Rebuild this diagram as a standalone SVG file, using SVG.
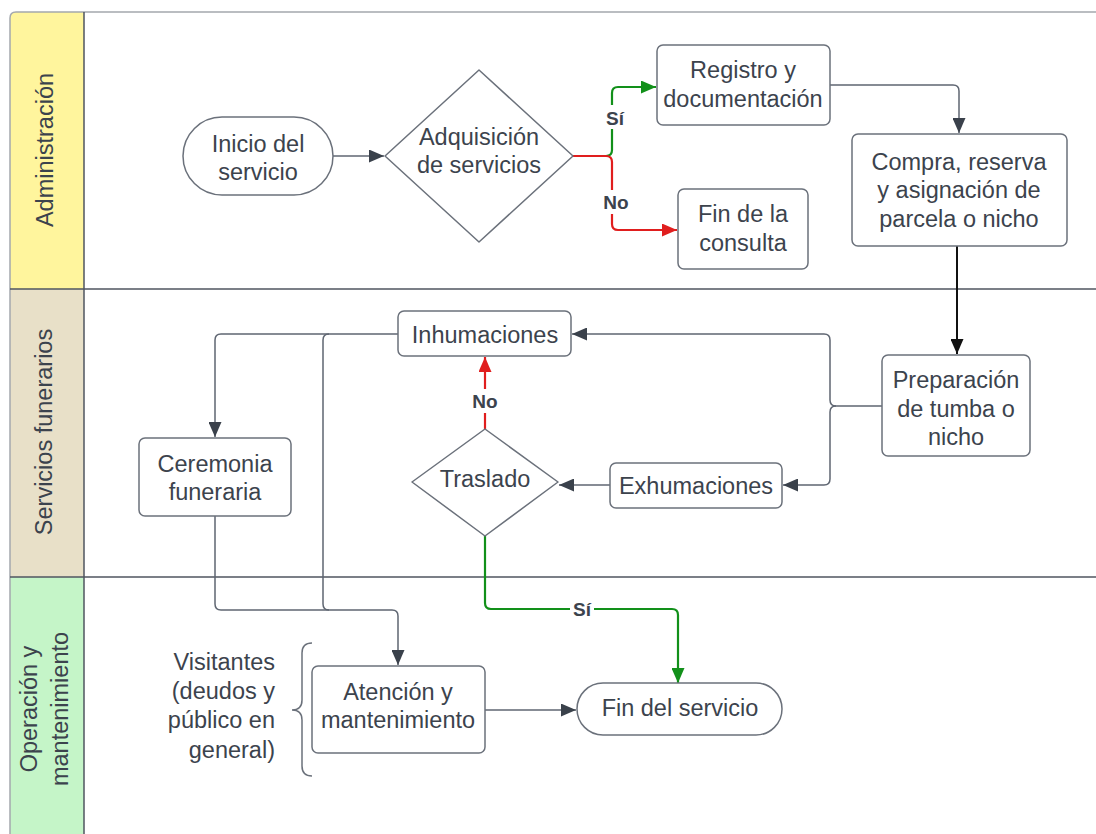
<svg xmlns="http://www.w3.org/2000/svg" width="1096" height="834" viewBox="0 0 1096 834">
<defs>
<style>
.t{font-family:"Liberation Sans",Arial,sans-serif;font-size:23.5px;fill:#3c434d;text-anchor:middle}
.tr{font-family:"Liberation Sans",Arial,sans-serif;font-size:23.5px;fill:#3c434d;text-anchor:end}
.lb{font-family:"Liberation Sans",Arial,sans-serif;font-size:19px;font-weight:bold;fill:#3c434d;text-anchor:middle}
.box{fill:#fff;stroke:#6b717b;stroke-width:1.5}
.c{fill:none;stroke:#5f6672;stroke-width:1.5}
.cg{fill:none;stroke:#12901a;stroke-width:2.2}
.cr{fill:none;stroke:#e01e1e;stroke-width:2.2}
.cb{fill:none;stroke:#111;stroke-width:2}
.lane{fill:none;stroke:#505660;stroke-width:1.5}
</style>
<marker id="ag" markerWidth="15" markerHeight="13" refX="15" refY="6.5" orient="auto" markerUnits="userSpaceOnUse"><path d="M0,0 L15,6.5 L0,13 z" fill="#3a414b"/></marker>
<marker id="agr" markerWidth="15" markerHeight="13" refX="15" refY="6.5" orient="auto" markerUnits="userSpaceOnUse"><path d="M0,0 L15,6.5 L0,13 z" fill="#12901a"/></marker>
<marker id="ar" markerWidth="15" markerHeight="13" refX="15" refY="6.5" orient="auto" markerUnits="userSpaceOnUse"><path d="M0,0 L15,6.5 L0,13 z" fill="#e01e1e"/></marker>
<marker id="ab" markerWidth="15" markerHeight="13" refX="15" refY="6.5" orient="auto" markerUnits="userSpaceOnUse"><path d="M0,0 L15,6.5 L0,13 z" fill="#111"/></marker>
</defs>
<rect width="1096" height="834" fill="#fff"/>
<g id="lanes">
<path d="M10,289 V18 Q10,12 16,12 H84 V289 Z" fill="#fff59d"/>
<rect x="10" y="289" width="74" height="288" fill="#e8e0c8"/>
<rect x="10" y="577" width="74" height="257" fill="#c5f5c8"/>
<path d="M10,834 V18 Q10,12 16,12 H1096" fill="none" stroke="#a4a8ad" stroke-width="1.5"/>
<path class="lane" d="M84,12 V834 M10,289 H1096 M10,577 H1096"/>
<text class="t" transform="translate(53,150) rotate(-90)">Administración</text>
<text class="t" transform="translate(52,432) rotate(-90)">Servicios funerarios</text>
<text class="t" transform="translate(37,709) rotate(-90)">Operación y</text>
<text class="t" transform="translate(68,709) rotate(-90)">mantenimiento</text>
</g>
<g id="connectors">
<path class="c" d="M333,156 H384" marker-end="url(#ag)"/>
<path class="cg" d="M606,156 Q612,156 612,150 V93 Q612,87 618,87 H656" marker-end="url(#agr)"/>
<path class="cr" d="M573,156 H606 Q612,156 612,162 V224 Q612,230 618,230 H677" marker-end="url(#ar)"/>
<path class="c" d="M830,85 H953 Q959,85 959,91 V133" marker-end="url(#ag)"/>
<path class="cb" d="M957,246 V354" marker-end="url(#ab)"/>
<path class="c" d="M882,406 H836 Q830,406 830,400 V340 Q830,334 824,334 H572" marker-end="url(#ag)"/>
<path class="c" d="M836,406 Q830,406 830,412 V479 Q830,485 824,485 H783" marker-end="url(#ag)"/>
<path class="c" d="M610,485 H559" marker-end="url(#ag)"/>
<path class="cr" d="M485,429 V357" marker-end="url(#ar)"/>
<path class="cg" d="M485,536 V603 Q485,609 491,609 H672 Q678,609 678,615 V683" marker-end="url(#agr)"/>
<path class="c" d="M398,334 H221 Q215,334 215,340 V437" marker-end="url(#ag)"/>
<path class="c" d="M329,334 Q323,334 323,340 V604 Q323,610 329,610 H392 Q398,610 398,616 V665" marker-end="url(#ag)"/>
<path class="c" d="M215,516 V604 Q215,610 221,610 H329"/>
<path class="c" d="M485,710 H576" marker-end="url(#ag)"/>
<rect x="602" y="105" width="24" height="24" fill="#fff"/>
<text class="lb" x="615" y="125">Sí</text>
<rect x="600" y="190" width="32" height="24" fill="#fff"/>
<text class="lb" x="616" y="209">No</text>
<rect x="469" y="389" width="32" height="24" fill="#fff"/>
<text class="lb" x="485" y="408">No</text>
<rect x="570" y="597" width="24" height="24" fill="#fff"/>
<text class="lb" x="582" y="616">Sí</text>
<path d="M312,643 Q302,643 302,653 V700 Q302,710 292,710 Q302,710 302,720 V766 Q302,776 312,776" fill="none" stroke="#6b717b" stroke-width="1.5"/>
</g>
<g id="inicio">
<rect class="box" x="183" y="117" width="150" height="78" rx="39"/>
<text class="t" x="258" y="152">Inicio del</text>
<text class="t" x="258" y="180">servicio</text>
</g>
<g id="adquisicion">
<path class="box" d="M479,70 L573,156 L479,242 L385,156 Z" stroke-linejoin="round"/>
<text class="t" x="479" y="145">Adquisición</text>
<text class="t" x="479" y="173">de servicios</text>
</g>
<g id="registro">
<rect class="box" x="657" y="45" width="173" height="80" rx="6"/>
<text class="t" x="743" y="78">Registro y</text>
<text class="t" x="743" y="107">documentación</text>
</g>
<g id="finconsulta">
<rect class="box" x="678" y="189" width="130" height="80" rx="6"/>
<text class="t" x="743" y="222">Fin de la</text>
<text class="t" x="743" y="251">consulta</text>
</g>
<g id="compra">
<rect class="box" x="852" y="134" width="215" height="112" rx="6"/>
<text class="t" x="959" y="170">Compra, reserva</text>
<text class="t" x="959" y="198">y asignación de</text>
<text class="t" x="959" y="227">parcela o nicho</text>
</g>
<g id="preparacion">
<rect class="box" x="882" y="355" width="148" height="101" rx="6"/>
<text class="t" x="956" y="388">Preparación</text>
<text class="t" x="956" y="417">de tumba o</text>
<text class="t" x="956" y="445">nicho</text>
</g>
<g id="inhumaciones">
<rect class="box" x="398" y="311" width="173" height="45" rx="6"/>
<text class="t" x="485" y="343">Inhumaciones</text>
</g>
<g id="exhumaciones">
<rect class="box" x="610" y="463" width="172" height="45" rx="6"/>
<text class="t" x="696" y="494">Exhumaciones</text>
</g>
<g id="traslado">
<path class="box" d="M485,429 L558,482 L485,536 L412,482 Z" stroke-linejoin="round"/>
<text class="t" x="485" y="487">Traslado</text>
</g>
<g id="ceremonia">
<rect class="box" x="139" y="438" width="152" height="78" rx="6"/>
<text class="t" x="215" y="472">Ceremonia</text>
<text class="t" x="215" y="500">funeraria</text>
</g>
<g id="atencion">
<rect class="box" x="312" y="666" width="173" height="87" rx="6"/>
<text class="t" x="398" y="700">Atención y</text>
<text class="t" x="398" y="728">mantenimiento</text>
</g>
<g id="finservicio">
<rect class="box" x="577" y="683" width="205" height="52" rx="26"/>
<text class="t" x="680" y="716">Fin del servicio</text>
</g>
<g id="visitantes">
<text class="tr" x="275" y="670">Visitantes</text>
<text class="tr" x="275" y="699">(deudos y</text>
<text class="tr" x="275" y="728">público en</text>
<text class="tr" x="275" y="758">general)</text>
</g>
</svg>
